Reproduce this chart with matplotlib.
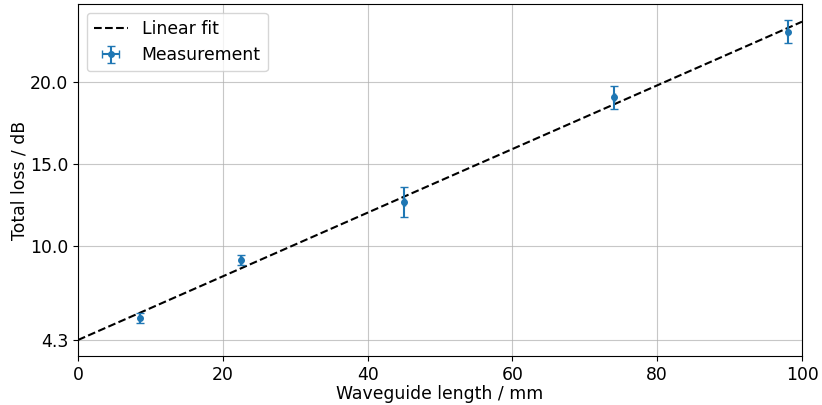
import numpy as np
import matplotlib
matplotlib.use("Agg")
import matplotlib.pyplot as plt

# measured data
length_mm = [8.5, 22.5, 45.0, 74.0, 98.0]
loss_db = [5.65, 9.15, 12.7, 19.07, 23.05]
loss_err = [0.3, 0.3, 0.9, 0.7, 0.7]
length_err = [0.1, 0.1, 0.1, 0.1, 0.1]

# linear fit parameters
fit_intercept = 4.3
fit_slope = 0.1935
yticks = [4.3, 10.0, 15.0, 20.0]

plt.rcParams['font.size'] = 12.4

fig = plt.figure(figsize=(8.22, 4.05), dpi=100)
ax = fig.add_axes([0.0949, 0.121, 0.8808, 0.869])

xfit = np.linspace(0, 100, 200)
ax.plot(xfit, fit_intercept + fit_slope * xfit, 'k--', label='Linear fit')
ax.errorbar(length_mm, loss_db, yerr=loss_err, xerr=length_err, fmt='o',
            markersize=4, capsize=3, label='Measurement')

ax.set_xlim(0, 100)
ax.set_yticks(yticks)
ax.set_yticklabels([f"{t:.1f}" for t in yticks])
ax.set_xlabel('Waveguide length / mm', labelpad=1)
ax.set_ylabel('Total loss / dB', labelpad=1)
ax.grid(True, alpha=0.7)
ax.legend(loc='upper left')

fig.savefig('out.png', dpi=100)
